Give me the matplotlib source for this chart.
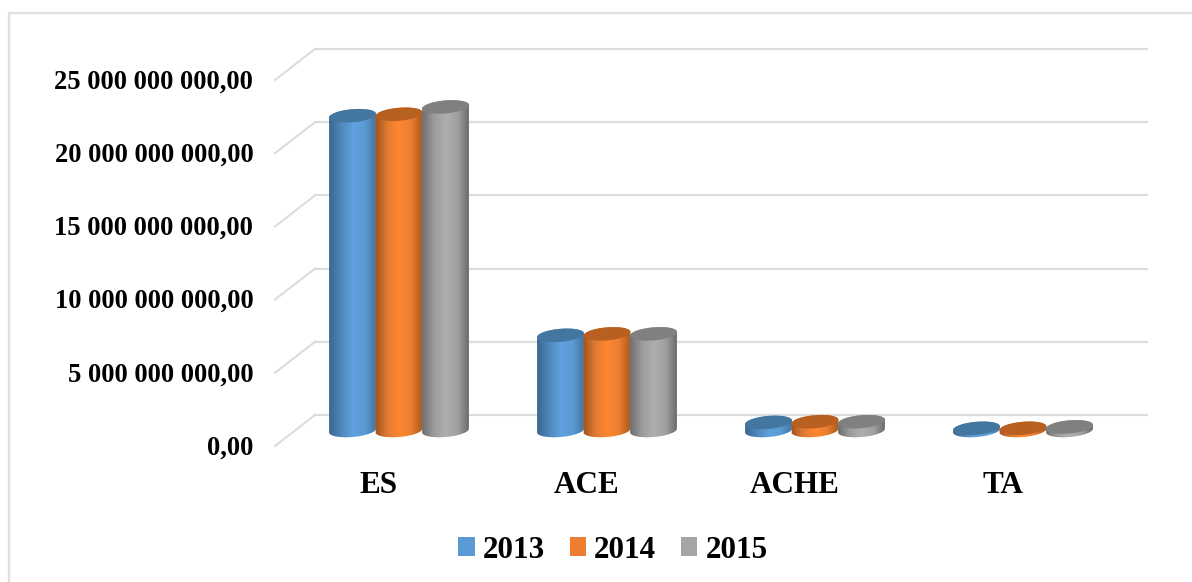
import numpy as np
import matplotlib
matplotlib.use("Agg")
import matplotlib.pyplot as plt
from matplotlib.patches import Patch, Polygon
from matplotlib.colors import LinearSegmentedColormap
from matplotlib.transforms import Affine2D

categories = ["ES", "ACE", "ACHE", "TA"]
years = ["2013", "2014", "2015"]
values_2013 = [21.5e9, 6.5e9, 0.55e9, 0.15e9]
values_2014 = [21.6e9, 6.6e9, 0.6e9, 0.15e9]
values_2015 = [22.1e9, 6.6e9, 0.6e9, 0.25e9]
y_ticks = [0, 5e9, 10e9, 15e9, 20e9, 25e9]
y_tick_labels = ["0,00", "5 000 000 000,00", "10 000 000 000,00",
                 "15 000 000 000,00", "20 000 000 000,00", "25 000 000 000,00"]

series = [values_2013, values_2014, values_2015]
base_colors = ["#5b9bd5", "#ed7d31", "#a5a5a5"]
ramps = [["#3a678f", "#4f88bb", "#5fa2df", "#5b9bd5", "#437299"],
         ["#9c5420", "#e07a30", "#ff8732", "#ec7e31", "#a8591f"],
         ["#6e6e6e", "#9c9c9c", "#afafaf", "#a0a0a0", "#666666"]]
top_colors = ["#44779f", "#b8601f", "#808080"]

W, H = 1192, 582
plt.rcParams["font.family"] = ["Liberation Serif", "DejaVu Serif"]
fig = plt.figure(figsize=(W / 100, H / 100), dpi=100)
fig.patch.set_facecolor("white")

# chart frame: only the left and top edges fall inside the picture
fig.add_artist(plt.Line2D([9 / W, 9 / W, 1], [0, 1 - 13 / H, 1 - 13 / H],
                          color="#e0e0e0", lw=1.7, transform=fig.transFigure,
                          clip_on=False, solid_joinstyle="miter"))

ax = fig.add_axes([295 / W, 1 - 430.5 / H, 832 / W, 366 / H])
ax.set_xlim(-0.5, 3.5)
ax.set_ylim(0, 25e9)
for s in ax.spines.values():
    s.set_visible(False)
ax.patch.set_visible(False)

# perspective: floor and wall are offset by half the depth from the bars' plane
to_back = ax.transData + Affine2D().translate(20, 15.5)
to_front = ax.transData + Affine2D().translate(-20, -15.5)
grid_color = "#dcdcdc"
for v in y_ticks:
    ax.plot([-0.5, 3.5], [v, v], color=grid_color, lw=1.6, transform=to_back,
            clip_on=False, zorder=1)
    p0 = to_front.transform((-0.5, v))
    p1 = to_back.transform((-0.5, v))
    ax.add_line(plt.Line2D([p0[0], p1[0]], [p0[1], p1[1]], color=grid_color, lw=1.5,
                           transform=None, clip_on=False, zorder=1))

# cylinders
units_x = 4 / 832      # data per pixel
units_y = 25e9 / 366
half_w_px, half_h_px, tilt = 23.5, 6.5, np.radians(5)
pitch = 0.2236


def ellipse(cx, cy, t):
    ex = half_w_px * np.cos(t) * np.cos(tilt) - half_h_px * np.sin(t) * np.sin(tilt)
    ey = half_w_px * np.cos(t) * np.sin(tilt) + half_h_px * np.sin(t) * np.cos(tilt)
    return cx + ex * units_x, cy + ey * units_y


z = 3
for i, cat in enumerate(categories):
    for j, vals in enumerate(series):
        cx = i + (j - 1) * pitch
        v = vals[i]
        cmap = LinearSegmentedColormap.from_list(f"r{j}", ramps[j])
        grad = np.linspace(0, 1, 128)[None, :]
        # side: lower half of the base ellipse, upper half through the top
        bx, by = ellipse(cx, 0, np.linspace(np.pi, 2 * np.pi, 60))
        tx, ty = ellipse(cx, v, np.linspace(0, np.pi, 60))
        side = np.column_stack([np.r_[bx, tx], np.r_[by, ty]])
        poly = Polygon(side, closed=True, transform=ax.transData, fc="none", ec="none",
                       clip_on=False)
        ax.add_patch(poly)
        x_ext = half_w_px * units_x * 1.02
        im = ax.imshow(grad, cmap=cmap, aspect="auto", interpolation="bilinear",
                       extent=[cx - x_ext, cx + x_ext, -12 * units_y, v + 12 * units_y],
                       zorder=z)
        im.set_clip_box(fig.bbox)
        im.set_clip_path(poly)
        # top cap
        ex, ey = ellipse(cx, v, np.linspace(0, 2 * np.pi, 120))
        ax.fill(ex, ey, color=top_colors[j], lw=0, zorder=z + 0.5, clip_on=False)
        z += 1
ax.set_xlim(-0.5, 3.5)
ax.set_ylim(0, 25e9)

# ticks sit on the front plane
ax.set_yticks(y_ticks)
ax.set_yticklabels(y_tick_labels, fontsize=19.1, fontweight="bold")
ax.tick_params(axis="y", length=0, pad=30)
for lab in ax.get_yticklabels():
    lab.set_transform(lab.get_transform() + Affine2D().translate(0, -14.5))
ax.set_xticks(range(len(categories)))
ax.set_xticklabels(categories, fontsize=22.4, fontweight="bold")
ax.tick_params(axis="x", length=0, pad=29)
for lab in ax.get_xticklabels():
    lab.set_transform(lab.get_transform() + Affine2D().translate(-20, 0))

handles = [Patch(facecolor=c, edgecolor="none", label=y) for c, y in zip(base_colors, years)]
fig.legend(handles=handles, loc="center", bbox_to_anchor=(613 / W, 1 - 550 / H), ncol=3,
           frameon=False, prop={"size": 22.4, "weight": "bold"}, handlelength=0.52,
           handleheight=0.52, handletextpad=0.26, columnspacing=0.8, borderpad=0,
           borderaxespad=0)

fig.savefig("out.png", dpi=100)
